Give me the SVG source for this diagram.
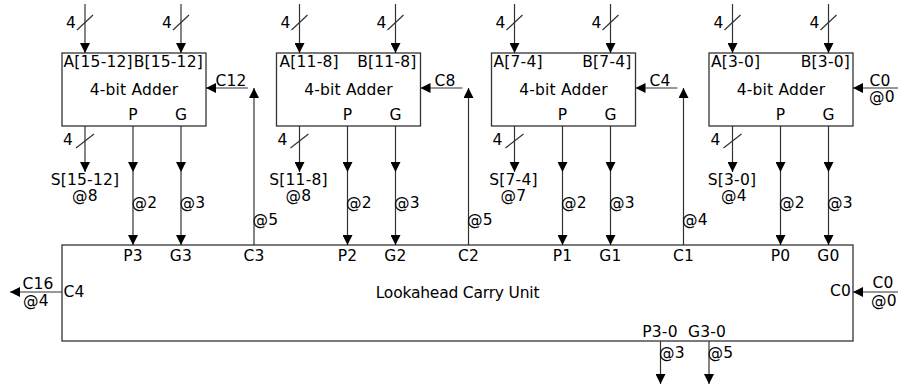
<svg xmlns="http://www.w3.org/2000/svg" width="898" height="385" viewBox="0 0 898 385">
<style>
text{font-family:"DejaVu Sans","Verdana",sans-serif;font-size:15.5px;letter-spacing:0.2px;fill:#000}
.m{text-anchor:middle}.e{text-anchor:end}
.box{fill:#fff;stroke:#333;stroke-width:1.3}
.ln{fill:none;stroke:#333;stroke-width:1.2}
.a{marker-end:url(#ah)}
.am{marker-mid:url(#ah);marker-end:url(#ah)}
</style>
<defs>
<marker id="ah" viewBox="0 0 10 10" refX="10" refY="5" markerWidth="10" markerHeight="10" markerUnits="userSpaceOnUse" orient="auto"><path d="M0,0 L10,5 L0,10 z" fill="#000"/></marker>
</defs>
<rect width="898" height="385" fill="#fff"/>

<g id="adder3">
<rect class="box" x="62" y="53" width="144" height="73"/>
<text x="63.5" y="67">A[15-12]</text>
<text class="e" x="203" y="67">B[15-12]</text>
<text class="m" x="134" y="95">4-bit Adder</text>
<text class="m" x="133" y="120">P</text>
<text class="m" x="181" y="120">G</text>
</g>
<g id="adder2">
<rect class="box" x="276.5" y="53" width="144" height="73"/>
<text x="279.5" y="67">A[11-8]</text>
<text class="e" x="416.5" y="67">B[11-8]</text>
<text class="m" x="348.5" y="95">4-bit Adder</text>
<text class="m" x="347.5" y="120">P</text>
<text class="m" x="395.5" y="120">G</text>
</g>
<g id="adder1">
<rect class="box" x="491.5" y="53" width="144" height="73"/>
<text x="493.5" y="67">A[7-4]</text>
<text class="e" x="631.5" y="67">B[7-4]</text>
<text class="m" x="563.5" y="95">4-bit Adder</text>
<text class="m" x="562.5" y="120">P</text>
<text class="m" x="610.5" y="120">G</text>
</g>
<g id="adder0">
<rect class="box" x="709" y="53" width="144" height="73"/>
<text x="711" y="67">A[3-0]</text>
<text class="e" x="850" y="67">B[3-0]</text>
<text class="m" x="781" y="95">4-bit Adder</text>
<text class="m" x="780.5" y="120">P</text>
<text class="m" x="828.5" y="120">G</text>
</g>
<g id="lcu">
<rect class="box" x="62" y="245" width="791" height="96"/>
<text class="m" x="457.5" y="298" style="letter-spacing:-0.2px">Lookahead Carry Unit</text>
<text x="63.5" y="297">C4</text>
<text class="e" x="851" y="296">C0</text>
<text class="m" x="133" y="261">P3</text>
<text class="m" x="181" y="261">G3</text>
<text class="m" x="254" y="261">C3</text>
<text class="m" x="347.5" y="261">P2</text>
<text class="m" x="395.5" y="261">G2</text>
<text class="m" x="468.5" y="261">C2</text>
<text class="m" x="562.5" y="261">P1</text>
<text class="m" x="610.5" y="261">G1</text>
<text class="m" x="683.5" y="261">C1</text>
<text class="m" x="780.5" y="261">P0</text>
<text class="m" x="828.5" y="261">G0</text>
<text class="m" x="660" y="337">P3-0</text>
<text class="m" x="707" y="337">G3-0</text>
</g>

<g id="connectors">
<path class="ln a" d="M85,4 V53"/><path class="ln" d="M77,30 L93,15"/>
<path class="ln a" d="M181,4 V53"/><path class="ln" d="M173,30 L189,15"/>
<path class="ln a" d="M299.5,4 V53"/><path class="ln" d="M291.5,30 L307.5,15"/>
<path class="ln a" d="M395.5,4 V53"/><path class="ln" d="M387.5,30 L403.5,15"/>
<path class="ln a" d="M514.5,4 V53"/><path class="ln" d="M506.5,30 L522.5,15"/>
<path class="ln a" d="M610.5,4 V53"/><path class="ln" d="M602.5,30 L618.5,15"/>
<path class="ln a" d="M732.5,4 V53"/><path class="ln" d="M724.5,30 L740.5,15"/>
<path class="ln a" d="M828.5,4 V53"/><path class="ln" d="M820.5,30 L836.5,15"/>
<path class="ln a" d="M85,126 V172"/><path class="ln" d="M76,148 L94,134"/>
<path class="ln a" d="M299.5,126 V172"/><path class="ln" d="M290.5,148 L308.5,134"/>
<path class="ln a" d="M514.5,126 V172"/><path class="ln" d="M505.5,148 L523.5,134"/>
<path class="ln a" d="M732.5,126 V172"/><path class="ln" d="M723.5,148 L741.5,134"/>
<path class="ln am" d="M133,126 V172 V245"/>
<path class="ln am" d="M181,126 V172 V245"/>
<path class="ln am" d="M347.5,126 V172 V245"/>
<path class="ln am" d="M395.5,126 V172 V245"/>
<path class="ln am" d="M562.5,126 V172 V245"/>
<path class="ln am" d="M610.5,126 V172 V245"/>
<path class="ln am" d="M780.5,126 V172 V245"/>
<path class="ln am" d="M828.5,126 V172 V245"/>
<path class="ln a" d="M254,245 V88"/><path class="ln a" d="M248,88 H206"/>
<path class="ln a" d="M468.5,245 V88"/><path class="ln a" d="M462.5,88 H420.5"/>
<path class="ln a" d="M683.5,245 V88"/><path class="ln a" d="M677.5,88 H635.5"/>
<path class="ln a" d="M898,88 H853"/>
<path class="ln a" d="M62,292 H10"/>
<path class="ln a" d="M898,292 H853"/>
<path class="ln a" d="M660.5,341 V384"/>
<path class="ln a" d="M709,341 V384"/>
</g>

<g id="labels">
<text class="e" x="76" y="28">4</text><text class="e" x="172" y="28">4</text>
<text class="e" x="290.5" y="28">4</text><text class="e" x="386.5" y="28">4</text>
<text class="e" x="505.5" y="28">4</text><text class="e" x="601.5" y="28">4</text>
<text class="e" x="723.5" y="28">4</text><text class="e" x="819.5" y="28">4</text>
<text class="e" x="73" y="145">4</text><text class="e" x="287.5" y="145">4</text>
<text class="e" x="502.5" y="145">4</text><text class="e" x="720.5" y="145">4</text>
<text class="m" x="85" y="185">S[15-12]</text><text class="m" x="85" y="201">@8</text>
<text class="m" x="298.5" y="185">S[11-8]</text><text class="m" x="298.5" y="201">@8</text>
<text class="m" x="513.5" y="185">S[7-4]</text><text class="m" x="513.5" y="201">@7</text>
<text class="m" x="732" y="185">S[3-0]</text><text class="m" x="734" y="201">@4</text>
<text x="131.5" y="208">@2</text><text x="179.5" y="208">@3</text>
<text x="346" y="208">@2</text><text x="394" y="208">@3</text>
<text x="561" y="208">@2</text><text x="609" y="208">@3</text>
<text x="779" y="208">@2</text><text x="827" y="208">@3</text>
<text x="252.5" y="225">@5</text>
<text x="467" y="225">@5</text>
<text x="682" y="225">@4</text>
<text class="m" x="231" y="86">C12</text>
<text class="m" x="445" y="86">C8</text>
<text class="m" x="660" y="86">C4</text>
<text class="m" x="880" y="86">C0</text><text class="m" x="882" y="102">@0</text>
<text class="m" x="38" y="289">C16</text><text class="m" x="36" y="306">@4</text>
<text class="m" x="883" y="288">C0</text><text class="m" x="884" y="306">@0</text>
<text x="659" y="358">@3</text><text x="707.5" y="358">@5</text>
</g>
</svg>
